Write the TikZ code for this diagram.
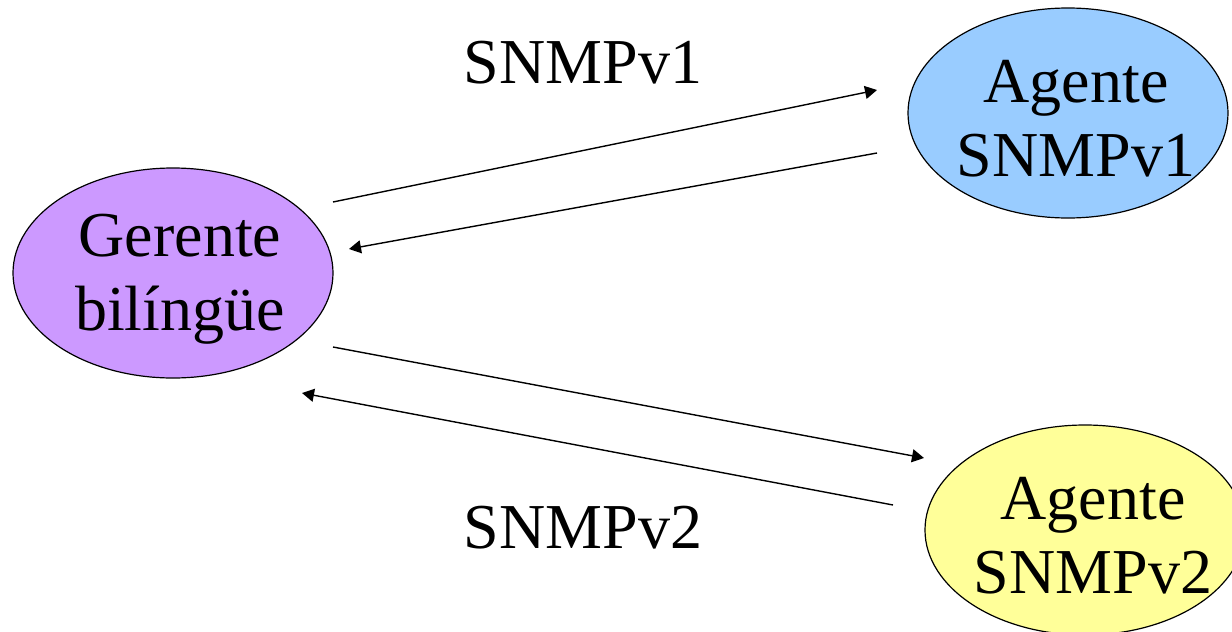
\documentclass[tikz,border=0pt]{standalone}
\usepackage{fontspec}
\setmainfont{Liberation Serif}
\definecolor{GerenteFill}{HTML}{CC99FF}
\definecolor{AgenteUno}{HTML}{99CCFF}
\definecolor{AgenteDos}{HTML}{FFFF99}
\usetikzlibrary{positioning,arrows.meta,shapes.geometric}

\begin{document}
\begin{tikzpicture}[
  x=0.5pt,y=-0.5pt,
  entidad/.style={
    draw,
    ellipse,
    line width=0.6pt,
    minimum width=160pt,
    minimum height=105pt,
    inner sep=0pt
  },
  rotulo/.style={
    align=center,
    inner sep=0pt,
    font=\fontsize{32}{37}\selectfont
  },
  msg/.style={-{Triangle[length=6pt,width=6.5pt]},line width=0.7pt},
  proto/.style={font=\fontsize{32}{37}\selectfont}
]
\useasboundingbox (0,0) rectangle (1232,632);

\node[entidad,fill=GerenteFill] (ger) at (173,273) {};
\node[entidad,fill=AgenteUno] (ag1) at (1068,113) {};
\node[entidad,fill=AgenteDos] (ag2) at (1085,530) {};

\node[rotulo] (tger) at (180,279) {Gerente\\bilíngüe};
\node[rotulo] (tag1) at (1076,119) {Agente\\SNMPv1};
\node[rotulo] (tag2) at (1093,536) {Agente\\SNMPv2};

\node[proto] (v1) at (583,63) {SNMPv1};
\node[proto] (v2) at (583,528) {SNMPv2};

% extremos libres de los mensajes
\coordinate (g1) at (333,202);
\coordinate (g2) at (349,249);
\coordinate (g3) at (333,347);
\coordinate (g4) at (302,393);
\coordinate (a1) at (877,90);
\coordinate (a2) at (877,153);
\coordinate (b1) at (924,458);
\coordinate (b2) at (893,505);

\draw[msg] (g1)--(a1);
\draw[msg] (a2)--(g2);
\draw[msg] (g3)--(b1);
\draw[msg] (b2)--(g4);

\end{tikzpicture}
\end{document}
